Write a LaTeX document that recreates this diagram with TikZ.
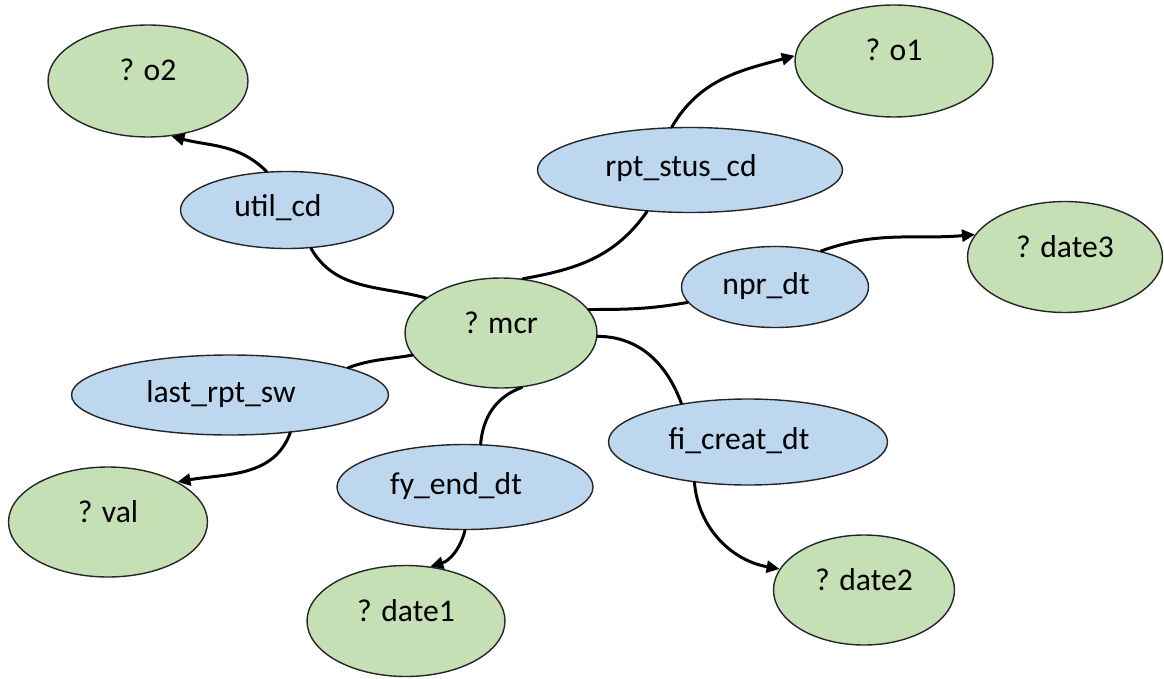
\documentclass[tikz,border=0pt]{standalone}
\usepackage{fontspec}
\setmainfont{Carlito}
\usetikzlibrary{shapes.geometric,arrows.meta}
\definecolor{varfill}{HTML}{C5E0B4}
\definecolor{propfill}{HTML}{BDD7EE}
\begin{document}
\begin{tikzpicture}[>={Triangle[length=1.3mm,width=1.2mm]},line join=round,line cap=round,
	font=\fontsize{9}{10}\selectfont,
	base/.style={ellipse,draw=black!85,line width=0.4pt,inner sep=0pt,text height=2.2mm},
	varnode/.style={base,fill=varfill,text depth=2.2mm},
	propnode/.style={base,fill=propfill,text depth=0.8mm,execute at end node={\hspace{1.8mm}}},
	link/.style={line width=0.85pt}]
		\useasboundingbox (0,0) rectangle (11.64,6.78);
		% variables
		\node[varnode,minimum width=1.92cm,minimum height=1.10cm] (mcr) at (5.01,3.45) {? mcr};
		\node[varnode,minimum width=2.00cm,minimum height=1.12cm] (o2) at (1.48,5.97) {? o2};
		\node[varnode,minimum width=1.98cm,minimum height=1.12cm] (o1) at (8.94,6.17) {? o1};
		\node[varnode,minimum width=1.95cm,minimum height=1.11cm] (date3) at (10.65,4.21) {? date3};
		\node[varnode,minimum width=1.99cm,minimum height=1.10cm] (val) at (1.08,1.56) {? val};
		\node[varnode,minimum width=1.98cm,minimum height=1.11cm] (date1) at (4.06,0.57) {? date1};
		\node[varnode,minimum width=1.81cm,minimum height=1.10cm] (date2) at (8.64,0.88) {? date2};
		% properties
		\node[propnode,minimum width=2.13cm,minimum height=0.77cm] (util) at (2.87,4.68) {util\_cd};
		\node[propnode,minimum width=3.05cm,minimum height=0.85cm] (rpt) at (6.90,5.08) {rpt\_stus\_cd};
		\node[propnode,minimum width=1.87cm,minimum height=0.81cm] (npr) at (7.75,3.91) {npr\_dt};
		\node[propnode,minimum width=3.17cm,minimum height=0.80cm] (last) at (2.30,2.83) {last\_rpt\_sw};
		\node[propnode,minimum width=2.56cm,minimum height=0.85cm] (fy) at (4.65,1.91) {fy\_end\_dt};
		\node[propnode,minimum width=2.79cm,minimum height=0.86cm] (fi) at (7.48,2.36) {fi\_creat\_dt};
		% edges
		\draw[link] (mcr.155) to[out=165,in=-60] (util.302);
		\draw[link,->] (util.118) to[out=135,in=-15] (o2.293);
		\draw[link] (mcr.68) to[out=10,in=235] (rpt.224);
		\draw[link,->] (rpt.113) to[out=60,in=195] (o1.177);
		\draw[link] (mcr.15) to[out=0,in=190] (npr.190);
		\draw[link,->] (npr.38) to[out=20,in=185] (date3.166);
		\draw[link] (mcr.194) to[out=190,in=20] (last.13);
		\draw[link,->] (last.328) to[out=250,in=10] (val.30);
		\draw[link] (mcr.291) to[out=200,in=85] (fy.70);
		\draw[link,->] (fy.270) to[bend left=30] (date1.66);
		\draw[link] (mcr.358) to[out=0,in=110] (fi.150);
		\draw[link,->] (fi.217) to[out=-85,in=170] (date2.166);
\end{tikzpicture}
\end{document}
